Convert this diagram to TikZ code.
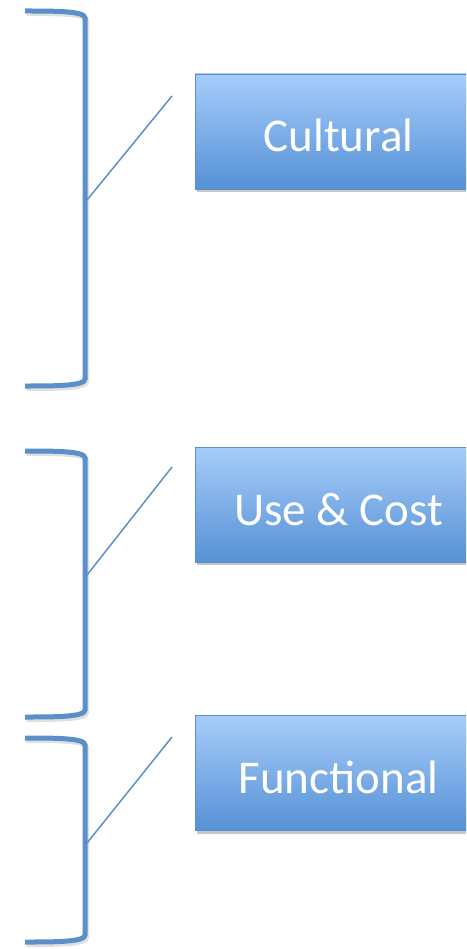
\documentclass[tikz,border=0pt]{standalone}
\usepackage{fontspec}
\setmainfont{Carlito}
\usepackage{tikz}
\usetikzlibrary{positioning,shadows}
\definecolor{grpLine}{HTML}{5B8FCA}
\definecolor{grpTop}{HTML}{A7CCFA}
\definecolor{grpBottom}{HTML}{5591D5}
\definecolor{grpEdge}{HTML}{5C8DC9}
\tikzset{
  catbox/.style={rectangle,draw=grpEdge,top color=grpTop,bottom color=grpBottom,
    minimum width=287pt,minimum height=115pt,text=white,
    font=\fontsize{47}{51}\selectfont,text height=41pt,text depth=0pt,
    drop shadow={shadow xshift=2pt,shadow yshift=-3pt,opacity=0.45}},
  bracket/.style={draw=grpLine,line width=5pt,line cap=butt},
  bracketshade/.style={draw=black,opacity=0.12,line width=5pt,line cap=butt,
    shift={(1.5,2.5)}},
  pointer/.style={draw=grpLine,line width=1.5pt}
}
\newcommand{\grpbracket}[3][bracket]{%
  \path[#1] (25,#2) .. controls (55,#2) and (85,#2) .. (85,#2+7) -- (85,#3-7)
    .. controls (85,#3) and (55,#3) .. (25,#3);}

\begin{document}
\begin{tikzpicture}[x=1pt,y=-1pt]
  \useasboundingbox (0,0) rectangle (466,949);
  \clip (0,0) rectangle (466,949);
  % category boxes
  \node[catbox] (cultural) at (338.5,131.5) {Cultural};
  \node[catbox] (usecost) at (338.5,504.5) {Use \& Cost};
  \node[catbox] (functional) at (338.5,773) {Functional};
  % brackets
  \grpbracket[bracketshade]{11}{386}
  \grpbracket[bracketshade]{451}{717}
  \grpbracket[bracketshade]{738}{942}
  \grpbracket{11}{386}
  \grpbracket{451}{717}
  \grpbracket{738}{942}
  % pointers
  \coordinate (p1a) at (87,200);
  \coordinate (p1b) at (172,96);
  \coordinate (p2a) at (87,575);
  \coordinate (p2b) at (172,467);
  \coordinate (p3a) at (87,843);
  \coordinate (p3b) at (172,737);
  \draw[pointer] (p1a) -- (p1b);
  \draw[pointer] (p2a) -- (p2b);
  \draw[pointer] (p3a) -- (p3b);
\end{tikzpicture}
\end{document}
